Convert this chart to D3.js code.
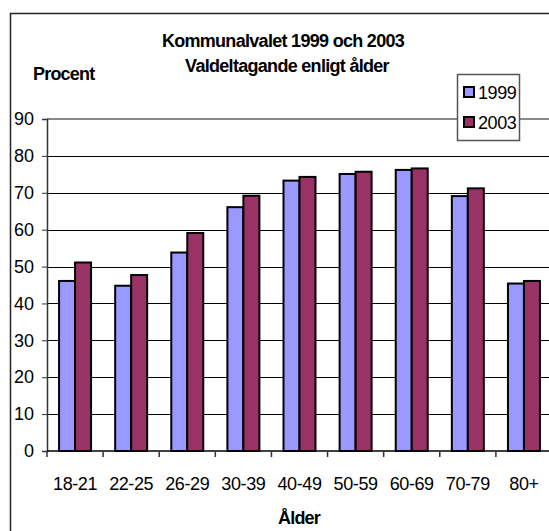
<!DOCTYPE html>
<html>
<head>
<meta charset="utf-8">
<script src="https://cdn.jsdelivr.net/npm/d3@7"></script>
<style>
  body { margin: 0; background: #fff; }
  text { font-family: "Liberation Sans", Arial, sans-serif; fill: #000; }
</style>
</head>
<body>
<svg width="549" height="531"></svg>
<script>
// age groups and turnout (percent)
var ages = ["18-21", "22-25", "26-29", "30-39", "40-49", "50-59", "60-69", "70-79", "80+"];
var years = ["1999", "2003"];
var v1999 = [46.1, 44.8, 53.8, 66.1, 73.3, 75.1, 76.2, 69.1, 45.4];
var v2003 = [51.1, 47.7, 59.1, 69.2, 74.3, 75.7, 76.6, 71.2, 46.1];
var yTicks = [0, 10, 20, 30, 40, 50, 60, 70, 80, 90];
var colors = ["#9999ff", "#993366"];

var svg = d3.select("svg");

// plot area (right edge runs past the window, as in the original)
var plotL = 47, plotR = 552, plotT = 119, plotB = 451;

var x0 = d3.scaleBand().domain(ages).range([plotL, plotR]).padding(0);
var bw = x0.bandwidth();
var x1 = d3.scaleBand().domain(years).range([bw * 0.215, bw * 0.785]).padding(0);
var y = d3.scaleLinear().domain([0, 90]).range([plotB, plotT]);

var rows = ages.map(function (a, i) {
  return { age: a, vals: [{ year: "1999", v: v1999[i], c: colors[0] }, { year: "2003", v: v2003[i], c: colors[1] }] };
});

// outer chart border
svg.append("rect")
  .attr("x", 10.5).attr("y", 13.5)
  .attr("width", 600).attr("height", 600)
  .attr("fill", "none").attr("stroke", "#222").attr("stroke-width", 1.5);

// gridlines
svg.append("g")
  .selectAll("line")
  .data(yTicks.filter(function (d) { return d > 0 && d < 90; }))
  .enter().append("line")
  .attr("x1", plotL).attr("x2", plotR)
  .attr("y1", function (d) { return Math.round(y(d)) + 0.5; })
  .attr("y2", function (d) { return Math.round(y(d)) + 0.5; })
  .attr("stroke", "#000").attr("stroke-width", 1);

// top of plot area
svg.append("line")
  .attr("x1", plotL).attr("x2", plotR)
  .attr("y1", y(90)).attr("y2", y(90))
  .attr("stroke", "#888").attr("stroke-width", 2);

// bars
var g = svg.append("g")
  .selectAll("g")
  .data(rows)
  .enter().append("g")
  .attr("transform", function (d) { return "translate(" + x0(d.age) + ",0)"; });

g.selectAll("rect")
  .data(function (d) { return d.vals; })
  .enter().append("rect")
  .attr("x", function (d) { return x1(d.year); })
  .attr("y", function (d) { return y(d.v); })
  .attr("width", x1.bandwidth())
  .attr("height", function (d) { return y(0) - y(d.v); })
  .attr("fill", function (d) { return d.c; })
  .attr("stroke", "#000").attr("stroke-width", 2);

// y axis
var yAxis = svg.append("g")
  .attr("transform", "translate(" + plotL + ",0)")
  .call(d3.axisLeft(y).tickValues(yTicks).tickSize(5).tickPadding(8));
yAxis.select(".domain").attr("stroke", "#333").attr("stroke-width", 1.5);
yAxis.selectAll(".tick line").attr("stroke", "#333");
yAxis.selectAll("text")
  .style("font-size", "18px").attr("fill", "#000").style("font-family", "'Liberation Sans', Arial, sans-serif");

// x axis with ticks at the category boundaries
var xAxis = svg.append("g")
  .attr("transform", "translate(0," + plotB + ")");
xAxis.append("line")
  .attr("x1", plotL).attr("x2", plotR)
  .attr("stroke", "#000").attr("stroke-width", 1.5);
xAxis.selectAll(".bt")
  .data(ages)
  .enter().append("line")
  .attr("class", "bt")
  .attr("x1", function (d) { return x0(d); })
  .attr("x2", function (d) { return x0(d); })
  .attr("y1", 0).attr("y2", 6)
  .attr("stroke", "#333").attr("stroke-width", 1.5);
xAxis.selectAll("text")
  .data(ages)
  .enter().append("text")
  .attr("x", function (d) { return x0(d) + bw / 2; })
  .attr("y", 39)
  .attr("text-anchor", "middle")
  .style("font-size", "18px")
  .style("letter-spacing", "-0.4px")
  .text(function (d) { return d; });

// titles
svg.append("text")
  .attr("x", 283).attr("y", 47)
  .attr("text-anchor", "middle")
  .style("font-size", "18px").style("font-weight", "bold").style("letter-spacing", "-0.7px")
  .text("Kommunalvalet 1999 och 2003");
svg.append("text")
  .attr("x", 287).attr("y", 72)
  .attr("text-anchor", "middle")
  .style("font-size", "18px").style("font-weight", "bold").style("letter-spacing", "-0.7px")
  .text("Valdeltagande enligt ålder");
svg.append("text")
  .attr("x", 33).attr("y", 80)
  .style("font-size", "18px").style("font-weight", "bold").style("letter-spacing", "-0.8px")
  .text("Procent");
svg.append("text")
  .attr("x", 299).attr("y", 524)
  .attr("text-anchor", "middle")
  .style("font-size", "18px").style("font-weight", "bold").style("letter-spacing", "-0.8px")
  .text("Ålder");

// legend
var lg = svg.append("g").attr("transform", "translate(457,74)");
lg.append("rect")
  .attr("x", 0.5).attr("y", 0.5).attr("width", 62).attr("height", 66)
  .attr("fill", "#fff").attr("stroke", "#555").attr("stroke-width", 1.5);
var li = lg.selectAll(".li")
  .data(years)
  .enter().append("g")
  .attr("class", "li")
  .attr("transform", function (d, i) { return "translate(0," + (i * 30) + ")"; });
li.append("rect")
  .attr("x", 7).attr("y", 13).attr("width", 10).attr("height", 10)
  .attr("fill", function (d, i) { return colors[i]; })
  .attr("stroke", "#000").attr("stroke-width", 2);
li.append("text")
  .attr("x", 21).attr("y", 24.5)
  .style("font-size", "18px").style("letter-spacing", "-0.4px")
  .text(function (d) { return d; });
</script>
</body>
</html>
